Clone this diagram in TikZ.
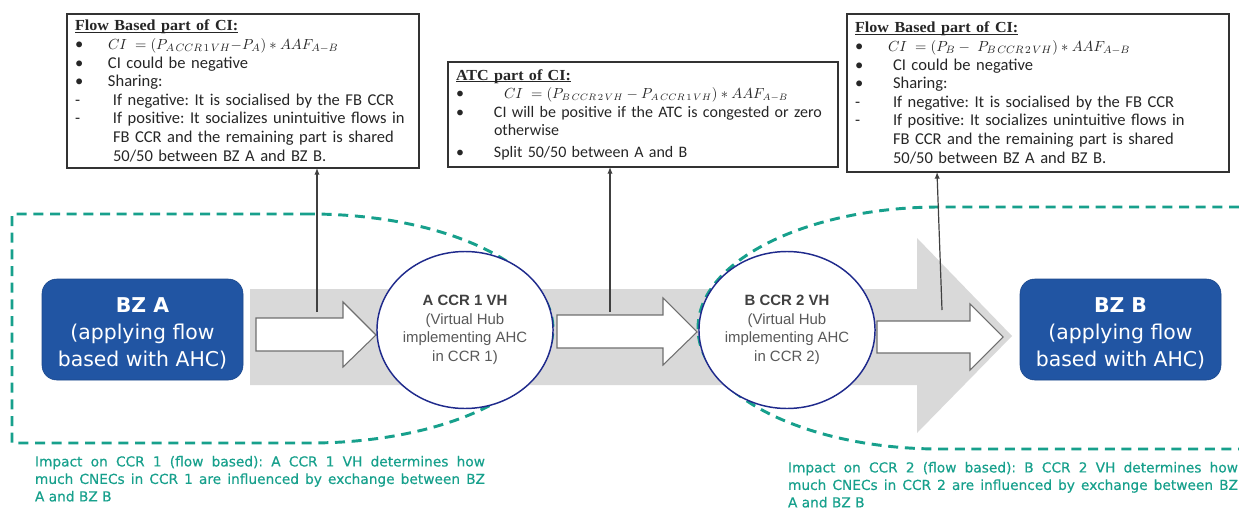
\documentclass[tikz,border=0pt]{standalone}
\usepackage{amsmath}
\usepackage{amssymb}
\usepackage{fontspec}
\setmainfont{Carlito}
\newfontfamily\titlefont[FakeStretch=1.05]{Liberation Serif}
\newfontfamily\hubfont{Liberation Sans}
\newfontfamily\zonefont{DejaVu Sans}
\newfontfamily\notefont[FakeBold=0.4]{DejaVu Sans}
\usetikzlibrary{arrows.meta,shapes.geometric}
\frenchspacing

\definecolor{zoneblue}{HTML}{2155A3}
\definecolor{tealline}{HTML}{17A08C}
\definecolor{hubnavy}{HTML}{1F2A8C}
\definecolor{flowgray}{HTML}{D9D9D9}
\definecolor{edgegray}{HTML}{6F6F6F}
\definecolor{textgray}{HTML}{595959}

\newcommand{\blt}[1][24.75pt]{\makebox[#1][l]{\textbullet}}
\newcommand{\dsh}{\makebox[28.5pt][l]{-}}
\newcommand{\cont}[1][28.5pt]{\hspace*{#1}}
\newcommand{\sub}{\mkern2.5mu}
\newcommand{\cititle}[1]{{\titlefont\bfseries\fontsize{11.5}{13.9}\selectfont
  \setbox0\hbox{#1}\rlap{\rule[-1.6pt]{\wd0}{0.6pt}}\box0}}
\newcommand{\cimath}[2][11]{{\fontsize{#1}{13.9}\selectfont$#2$}}

\begin{document}
\begin{tikzpicture}[
		x=0.75pt, y=-0.75pt,
		every node/.style={inner sep=0pt, outer sep=0pt},
		infobox/.style={rectangle, draw=black!80, line width=0.8pt, fill=white, anchor=north west,
			inner xsep=6pt, align=left, text=black!85, font=\fontsize{12.4}{13.95}\selectfont},
		zonebox/.style={rectangle, rounded corners=11pt, fill=zoneblue, draw=zoneblue!85!black,
			text=white, minimum width=150.75pt, minimum height=75.75pt, align=center,
			font=\zonefont\fontsize{15.3}{20.6}\selectfont},
		hub/.style={ellipse, draw=hubnavy, line width=1.1pt, fill=white, minimum width=130.5pt,
			minimum height=117.75pt, align=center, text=textgray, font=\hubfont\fontsize{11.2}{13.9}\selectfont},
		flow/.style={draw=edgegray, line width=0.8pt, fill=white},
		impact/.style={draw=tealline, line width=2.2pt, dash pattern=on 7.5pt off 5pt},
		note/.style={anchor=north west, text=tealline, text width=337.5pt, align=justify,
			font=\notefont\fontsize{10.3}{13.1}\selectfont},
		link/.style={draw=black!75, line width=0.9pt, -{Latex[length=5pt,width=4pt]}}
	]
  \useasboundingbox (0,0) rectangle (1239,510);

  % big grey flow from A to B
  \fill[flowgray] (250,289) -- (917,289) -- (917,238) -- (1012,336) -- (917,433) -- (917,385) -- (250,385) -- cycle;

  % areas of impact
  \draw[impact] (310,214) -- (12,214) -- (12,443) -- (310,443)
    arc[start angle=-90, end angle=90, x radius=182.25pt, y radius=85.875pt];
  \draw[impact] (1239,207) -- (940,207)
    arc[start angle=90, end angle=270, x radius=181.5pt, y radius=90.75pt] -- (1239,449);

  % white flow arrows
  \draw[flow] (256,318) -- (343,318) -- (343,302) -- (376,335) -- (343,367) -- (343,351) -- (256,351) -- cycle;
  \draw[flow] (557,315) -- (663,315) -- (663,298) -- (697,332) -- (663,365) -- (663,348) -- (557,348) -- cycle;
  \draw[flow] (877,321) -- (970,321) -- (970,304) -- (1003,337) -- (970,370) -- (970,353) -- (877,353) -- cycle;

  \node (hub_a) [hub] at (465,330) {{\bfseries\color{black!75}A CCR 1 VH}\\(Virtual Hub\\implementing AHC\\in CCR 1)};
  \node (hub_b) [hub] at (787,330) {{\bfseries\color{black!75}B CCR 2 VH}\\(Virtual Hub\\implementing AHC\\in CCR 2)};

  \node (bz_a) [zonebox] at (142.5,329.5) {\rule{0pt}{17pt}{\bfseries BZ A}\\(applying flow\\based with AHC)};
  \node (bz_b) [zonebox] at (1120.5,329.5) {\rule{0pt}{17pt}{\bfseries BZ B}\\(applying flow\\based with AHC)};

  \node (fb_a) [infobox, minimum width=264pt, minimum height=115.5pt, text width=252pt] at (67,14) {%
    \cititle{Flow Based part of CI:}\\
    \blt\cimath{CI\;=(P_{A\sub CCR\sub 1\sub VH}{-}P_{A})\ast AAF_{A-B}}\\
    \blt CI could be negative\\
    \blt Sharing:\\
    \dsh If negative: It is socialised by the FB CCR\\
    \dsh If positive: It socializes unintuitive flows in\\
    \cont FB CCR and the remaining part is shared\\
    \cont 50/50 between BZ A and BZ B.};
  \node (atc) [infobox, minimum width=292.5pt, minimum height=78.75pt, text width=280.5pt,
      font=\fontsize{12}{13.95}\selectfont] at (448,62) {%
    \cititle{ATC part of CI:}\\
    \blt[36pt]\cimath[10.5]{CI\;=(P_{B\sub CCR\sub 2\sub VH}-P_{A\sub CCR\sub 1\sub VH})\ast AAF_{A-B}}\\
    \blt[28.5pt]CI will be positive if the ATC is congested or zero\\
    \cont[28.5pt]otherwise\\[2pt]
    \blt[28.5pt]Split 50/50 between A and B};
  \node (fb_b) [infobox, minimum width=286.5pt, minimum height=118.5pt, text width=274.5pt] at (847,14) {%
    \cititle{Flow Based part of CI:}\\
    \blt\cimath{CI\;=(P_{B}-\;P_{B\sub CCR\sub 2\sub VH})\ast AAF_{A-B}}\\
    \blt[28.5pt]CI could be negative\\
    \blt[28.5pt]Sharing:\\
    \dsh If negative: It is socialised by the FB CCR\\
    \dsh If positive: It socializes unintuitive flows in\\
    \cont FB CCR and the remaining part is shared\\
    \cont 50/50 between BZ A and BZ B.};

  % links to the CI boxes
  \coordinate (foot_a) at (317,312);
  \coordinate (foot_atc) at (610,312);
  \coordinate (foot_b) at (942,310);
  \draw[link] (foot_a) -- (fb_a.south -| foot_a);
  \draw[link] (foot_atc) -- (atc.south -| foot_atc);
  \draw[link] (foot_b) -- ([xshift=-75.75pt]fb_b.south);

  \node (impact_a) [note] at (35,456) {Impact on CCR 1 (flow based): A CCR 1 VH determines how\linebreak much CNECs in CCR 1 are influenced by exchange between BZ\linebreak A and BZ B};
  \node (impact_b) [note] at (788,462) {Impact on CCR 2 (flow based): B CCR 2 VH determines how\linebreak much CNECs in CCR 2 are influenced by exchange between BZ\linebreak A and BZ B};
\end{tikzpicture}
\end{document}
